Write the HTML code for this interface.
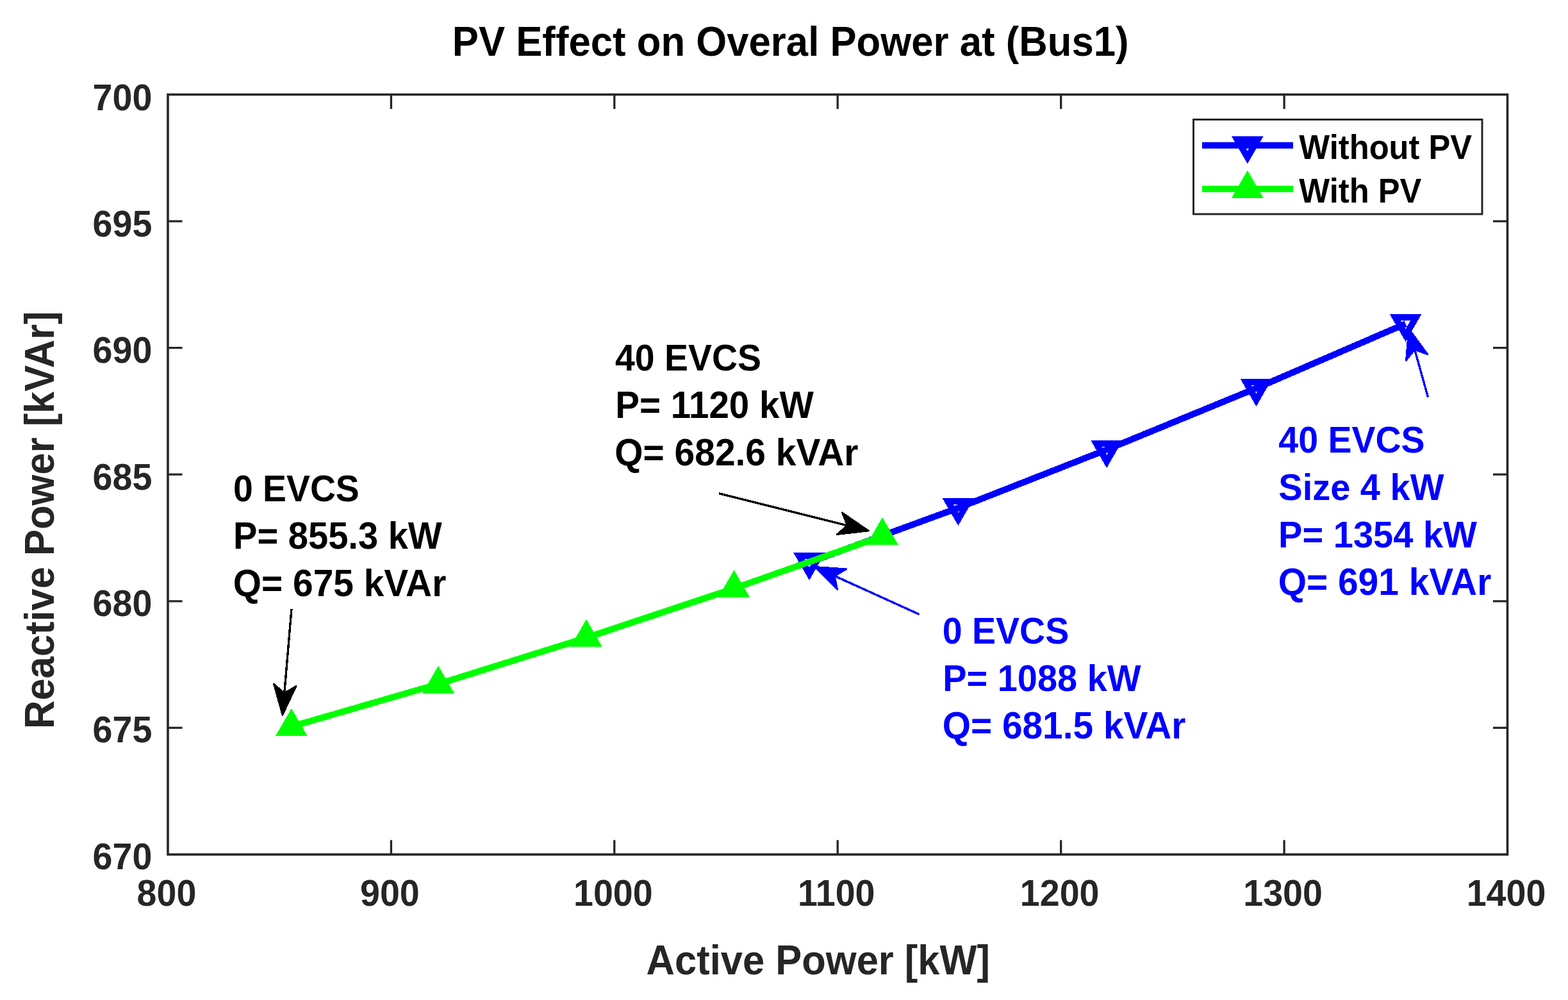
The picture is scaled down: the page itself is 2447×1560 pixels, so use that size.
<!DOCTYPE html>
<html><head><meta charset="utf-8"><title>PV Effect on Overal Power at (Bus1)</title>
<style>html,body{margin:0;padding:0;background:#fff;overflow:hidden;}svg{display:block;}</style>
</head><body>
<svg width="2447" height="1560" viewBox="0 0 2447 1560">
<rect x="0" y="0" width="2447" height="1560" fill="#ffffff"/>
<rect x="262.0" y="147.5" width="2090.5" height="1185.5" fill="none" stroke="#262626" stroke-width="3.6"/>
<path d="M610.4,1333.0V1310.5M610.4,147.5V170.0M958.8,1333.0V1310.5M958.8,147.5V170.0M1307.2,1333.0V1310.5M1307.2,147.5V170.0M1655.7,1333.0V1310.5M1655.7,147.5V170.0M2004.1,1333.0V1310.5M2004.1,147.5V170.0M262.0,1135.4H284.5M2352.5,1135.4H2330.0M262.0,937.8H284.5M2352.5,937.8H2330.0M262.0,740.2H284.5M2352.5,740.2H2330.0M262.0,542.7H284.5M2352.5,542.7H2330.0M262.0,345.1H284.5M2352.5,345.1H2330.0" stroke="#262626" stroke-width="3.3" fill="none"/>
<g font-family="'Liberation Sans', Arial, Helvetica, sans-serif" font-weight="bold" font-size="55.6" fill="#262626">
<text transform="translate(260.0,1413) scale(1,1.04)" text-anchor="middle">800</text>
<text transform="translate(608.4,1413) scale(1,1.04)" text-anchor="middle">900</text>
<text transform="translate(956.8,1413) scale(1,1.04)" text-anchor="middle">1000</text>
<text transform="translate(1305.2,1413) scale(1,1.04)" text-anchor="middle">1100</text>
<text transform="translate(1653.7,1413) scale(1,1.04)" text-anchor="middle">1200</text>
<text transform="translate(2002.1,1413) scale(1,1.04)" text-anchor="middle">1300</text>
<text transform="translate(2350.5,1413) scale(1,1.04)" text-anchor="middle">1400</text>
<text transform="translate(237.3,1355.7) scale(1,1.02)" text-anchor="end">670</text>
<text transform="translate(237.3,1158.1) scale(1,1.02)" text-anchor="end">675</text>
<text transform="translate(237.3,960.7) scale(1,1.02)" text-anchor="end">680</text>
<text transform="translate(237.3,764.0) scale(1,1.02)" text-anchor="end">685</text>
<text transform="translate(237.3,565.7) scale(1,1.02)" text-anchor="end">690</text>
<text transform="translate(237.3,368.8) scale(1,1.02)" text-anchor="end">695</text>
<text transform="translate(237.3,171.8) scale(1,1.02)" text-anchor="end">700</text>
</g>
<text transform="translate(1008.6,1520) scale(1,1.063)" font-family="'Liberation Sans', Arial, Helvetica, sans-serif" font-weight="bold" font-size="61.5" fill="#262626">Active Power [kW]</text>
<text transform="translate(83.8,1137) rotate(-90) scale(1,1.06)" x="0" y="0" font-family="'Liberation Sans', Arial, Helvetica, sans-serif" font-weight="bold" font-size="61.5" fill="#262626">Reactive Power [kVAr]</text>
<text transform="translate(705.8,87) scale(1,1.063)" font-family="'Liberation Sans', Arial, Helvetica, sans-serif" font-weight="bold" font-size="61.7" fill="#000">PV Effect on Overal Power at (Bus1)</text>
<g shape-rendering="crispEdges">
<polyline points="1263.0,877.3 1495.4,792.4 1727.1,701.48 1960.5,605.6 2193.6,505.03" fill="none" stroke="#0000ff" stroke-width="10" stroke-linejoin="round"/>
<polygon points="1246.72,867.00 1279.28,867.00 1263.00,895.20" fill="none" stroke="#0000ff" stroke-width="10" stroke-linejoin="miter"/>
<polygon points="1479.12,781.80 1511.68,781.80 1495.40,810.00" fill="none" stroke="#0000ff" stroke-width="10" stroke-linejoin="miter"/>
<polygon points="1710.82,691.80 1743.38,691.80 1727.10,720.00" fill="none" stroke="#0000ff" stroke-width="10" stroke-linejoin="miter"/>
<polygon points="1944.22,595.80 1976.78,595.80 1960.50,624.00" fill="none" stroke="#0000ff" stroke-width="10" stroke-linejoin="miter"/>
<polygon points="2177.32,494.90 2209.88,494.90 2193.60,523.10" fill="none" stroke="#0000ff" stroke-width="10" stroke-linejoin="miter"/>
<polyline points="454.9,1133.48 684.1,1067.04 915.0,994.86 1145.5,917.98 1377.0,836.35" fill="none" stroke="#00ff00" stroke-width="10" stroke-linejoin="round"/>
<polygon points="438.62,1143.20 471.18,1143.20 454.90,1115.00" fill="#00ff00" stroke="#00ff00" stroke-width="10" stroke-linejoin="miter"/>
<polygon points="667.82,1076.70 700.38,1076.70 684.10,1048.50" fill="#00ff00" stroke="#00ff00" stroke-width="10" stroke-linejoin="miter"/>
<polygon points="898.72,1004.30 931.28,1004.30 915.00,976.10" fill="#00ff00" stroke="#00ff00" stroke-width="10" stroke-linejoin="miter"/>
<polygon points="1129.22,927.40 1161.78,927.40 1145.50,899.20" fill="#00ff00" stroke="#00ff00" stroke-width="10" stroke-linejoin="miter"/>
<polygon points="1360.72,845.20 1393.28,845.20 1377.00,817.00" fill="#00ff00" stroke="#00ff00" stroke-width="10" stroke-linejoin="miter"/>
</g>
<rect x="1862.5" y="186.5" width="450.5" height="147.5" fill="#ffffff" stroke="#262626" stroke-width="3"/>
<line x1="1876" y1="226.8" x2="2018" y2="226.8" stroke="#0000ff" stroke-width="10"/>
<polygon points="1930.52,217.40 1963.08,217.40 1946.80,245.60" fill="none" stroke="#0000ff" stroke-width="10"/>
<line x1="1876" y1="294.8" x2="2018" y2="294.8" stroke="#00ff00" stroke-width="10"/>
<polygon points="1930.52,303.90 1963.08,303.90 1946.80,275.70" fill="#00ff00" stroke="#00ff00" stroke-width="10"/>
<g font-family="'Liberation Sans', Arial, Helvetica, sans-serif" font-weight="bold" font-size="50.7" fill="#000">
<text transform="translate(2027.3,247.7) scale(1,1.055)">Without PV</text>
<text transform="translate(2027.3,315.5) scale(1,1.055)">With PV</text>
</g>
<g shape-rendering="crispEdges">
<line x1="455.0" y1="949.7" x2="443.8" y2="1081.1" stroke="#000" stroke-width="3.4"/><polygon points="440.9,1115.5 427.4,1067.2 443.8,1081.1 462.3,1070.2" fill="#000" stroke="#000" stroke-width="2.5" stroke-linejoin="round"/>
<line x1="1122.0" y1="769.7" x2="1322.2" y2="819.7" stroke="#000" stroke-width="3.4"/><polygon points="1355.7,828.1 1305.9,833.7 1322.2,819.7 1314.3,799.7" fill="#000" stroke="#000" stroke-width="2.5" stroke-linejoin="round"/>
<line x1="1434.9" y1="958.6" x2="1302.6" y2="898.5" stroke="#0000ff" stroke-width="3.4"/><polygon points="1271.2,884.2 1321.2,887.7 1302.6,898.5 1306.7,919.6" fill="#0000ff" stroke="#0000ff" stroke-width="2.5" stroke-linejoin="round"/>
<line x1="2228.5" y1="619.6" x2="2207.8" y2="545.6" stroke="#0000ff" stroke-width="3.4"/><polygon points="2198.5,512.4 2228.0,552.9 2207.8,545.6 2194.3,562.4" fill="#0000ff" stroke="#0000ff" stroke-width="2.5" stroke-linejoin="round"/>
</g>
<g font-family="'Liberation Sans', Arial, Helvetica, sans-serif" font-weight="bold" fill="#000">
<text transform="translate(363.89,782.0) scale(1,1.04)" font-size="55.36">0 EVCS</text>
<text transform="translate(364.12,856.0) scale(1,1.04)" font-size="56.06">P= 855.3 kW</text>
<text transform="translate(363.82,930.0) scale(1,1.04)" font-size="56.88">Q= 675 kVAr</text>
<text transform="translate(959.97,578.2) scale(1,1.04)" font-size="55.44">40 EVCS</text>
<text transform="translate(960.28,652.1) scale(1,1.04)" font-size="56.53">P= 1120 kW</text>
<text transform="translate(959.32,726.0) scale(1,1.04)" font-size="56.92">Q= 682.6 kVAr</text>
</g>
<g font-family="'Liberation Sans', Arial, Helvetica, sans-serif" font-weight="bold" fill="#0000ff">
<text transform="translate(1470.78,1004.0) scale(1,1.04)" font-size="55.5">0 EVCS</text>
<text transform="translate(1471.22,1077.9) scale(1,1.04)" font-size="55.95">P= 1088 kW</text>
<text transform="translate(1470.73,1151.8) scale(1,1.04)" font-size="56.83">Q= 681.5 kVAr</text>
<text transform="translate(1995.27,706.1) scale(1,1.04)" font-size="55.49">40 EVCS</text>
<text transform="translate(1995.32,780.0) scale(1,1.04)" font-size="55.97">Size 4 kW</text>
<text transform="translate(1995.12,853.6) scale(1,1.04)" font-size="56.02">P= 1354 kW</text>
<text transform="translate(1994.72,927.7) scale(1,1.04)" font-size="56.9">Q= 691 kVAr</text>
</g>
</svg>
</body></html>
